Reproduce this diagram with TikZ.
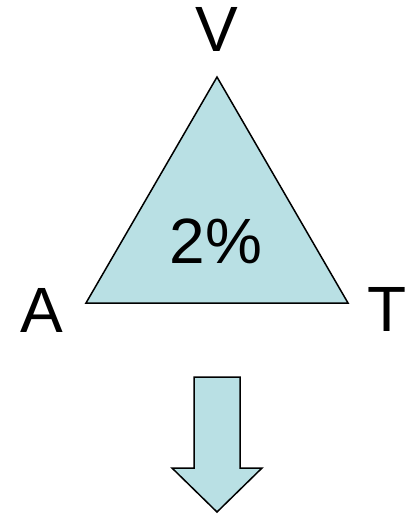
\documentclass[tikz,border=0pt]{standalone}
\usepackage{fontspec}
\setmainfont{Liberation Sans}
\definecolor{fillblue}{RGB}{185,224,228}
\begin{document}
\begin{tikzpicture}[x=1pt,y=-1pt,
  lbl/.style={anchor=base,inner sep=0pt,font=\fontsize{64}{70}\selectfont},
  shp/.style={draw=black,line width=1.5pt,fill=fillblue,line join=miter}]
\useasboundingbox (0,0) rectangle (414,516);
\coordinate (apex) at (217,77);
\coordinate (bl) at (86,303);
\coordinate (br) at (348,303);
\draw[shp] (apex) -- (bl) -- (br) -- cycle;
\node[lbl] (v) at (217,52) {V};
\node[lbl] (a) at (42,332) {A};
\node[lbl] (t) at (387,331) {T};
\node[lbl] (pct) at (216,263) {2\%};
\draw[shp] (194,377) -- (240,377) -- (240,468) -- (262,468) -- (217,512) -- (172,468) -- (194,468) -- cycle;
\end{tikzpicture}
\end{document}
